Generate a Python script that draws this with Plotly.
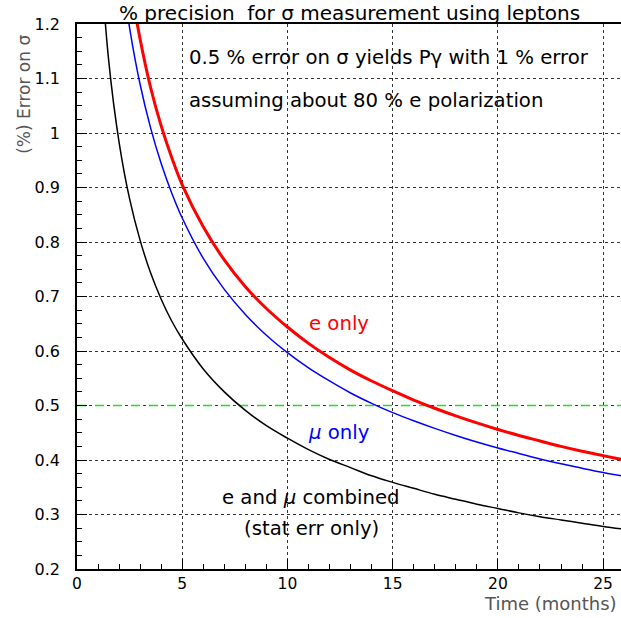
import plotly.graph_objects as go

# Time (months) sample points
months = [1.0, 1.5, 2.0, 2.5, 3.0, 3.5, 4.0, 4.5, 5.0, 6.0, 7.0, 8.0, 9.0, 10.0,
          11.0, 12.0, 13.0, 14.0, 15.0, 16.0, 17.0, 18.0, 19.0, 20.0, 21.0,
          22.0, 23.0, 24.0, 25.0, 26.0]

# % error on sigma
e_only = [2.04, 1.67, 1.44, 1.285, 1.172, 1.083, 1.013, 0.955, 0.905, 0.828,
          0.767, 0.718, 0.678, 0.644, 0.614, 0.588, 0.565, 0.545, 0.527, 0.510,
          0.495, 0.481, 0.468, 0.456, 0.445, 0.435, 0.425, 0.416, 0.408, 0.400]
mu_only = [1.887, 1.541, 1.334, 1.193, 1.089, 1.009, 0.944, 0.890, 0.844, 0.770,
           0.713, 0.667, 0.629, 0.597, 0.569, 0.545, 0.523, 0.504, 0.487, 0.472,
           0.458, 0.445, 0.433, 0.422, 0.412, 0.402, 0.393, 0.385, 0.377, 0.370]
combined = [1.39, 1.135, 0.983, 0.879, 0.803, 0.743, 0.695, 0.655, 0.622, 0.567,
            0.525, 0.491, 0.463, 0.440, 0.419, 0.401, 0.386, 0.371, 0.359, 0.348,
            0.337, 0.328, 0.319, 0.311, 0.303, 0.296, 0.290, 0.284, 0.278, 0.273]
goal_level = 0.5

x_ticks = [0, 5, 10, 15, 20, 25]
y_ticks = [0.2, 0.3, 0.4, 0.5, 0.6, 0.7, 0.8, 0.9, 1.0, 1.1, 1.2]
y_ticktext = ["0.2", "0.3", "0.4", "0.5", "0.6", "0.7", "0.8", "0.9", "1", "1.1", "1.2"]

FONT = "DejaVu Sans"
TXT = 19.7

fig = go.Figure()
fig.add_trace(go.Scatter(x=[0, 26], y=[goal_level, goal_level], mode="lines",
                         line=dict(color="#22dd22", width=1.5, dash="dash"),
                         showlegend=False, hoverinfo="skip"))
fig.add_trace(go.Scatter(x=months, y=combined, mode="lines", line_shape="spline",
                         line=dict(color="black", width=1.5), showlegend=False))
fig.add_trace(go.Scatter(x=months, y=mu_only, mode="lines", line_shape="spline",
                         line=dict(color="#0000ff", width=1.5), showlegend=False))
fig.add_trace(go.Scatter(x=months, y=e_only, mode="lines", line_shape="spline",
                         line=dict(color="#ff0000", width=3), showlegend=False))

annotations = [
    dict(text="% precision  for σ measurement using leptons", x=0.5, xref="paper",
         y=1.0, yref="paper", yanchor="middle", xanchor="center", yshift=11,
         font=dict(size=20, color="black"), showarrow=False),
    dict(text="0.5 % error on σ yields Pγ with 1 % error", x=5.24, y=1.138,
         xanchor="left", yanchor="middle", font=dict(size=TXT, color="black"), showarrow=False),
    dict(text="assuming about 80 % e polarization", x=5.24, y=1.059,
         xanchor="left", yanchor="middle", font=dict(size=TXT, color="black"), showarrow=False),
    dict(text="e only", x=12.45, y=0.65, xanchor="center", yanchor="middle",
         font=dict(size=TXT, color="#ff0000"), showarrow=False),
    dict(text="<i>μ</i> only", x=12.45, y=0.451, xanchor="center", yanchor="middle",
         font=dict(size=TXT, color="#0000ff"), showarrow=False),
    dict(text="e and <i>μ</i> combined", x=11.14, y=0.332, xanchor="center", yanchor="middle",
         font=dict(size=TXT, color="black"), showarrow=False),
    dict(text="(stat err only)", x=11.14, y=0.275, xanchor="center", yanchor="middle",
         font=dict(size=TXT, color="black"), showarrow=False),
    dict(text="(%) Error on σ", x=0, xref="paper", y=0.87, yref="paper",
         xanchor="center", yanchor="middle", textangle=-90, xshift=-53,
         font=dict(size=17, color="#555555"), showarrow=False),
    dict(text="Time (months)", x=1.0, xref="paper", y=0, yref="paper",
         xanchor="right", yanchor="middle", yshift=-34, xshift=-2,
         font=dict(size=18, color="#555555"), showarrow=False),
]

fig.update_layout(
    width=621, height=618,
    margin=dict(l=77, r=0, t=24, b=49, autoexpand=False),
    paper_bgcolor="white", plot_bgcolor="white",
    font=dict(family=FONT, size=16, color="black"),
    annotations=annotations,
)
fig.update_xaxes(range=[0, 25.85], tickvals=x_ticks,
                 showgrid=True, gridcolor="#333333", griddash="dot", gridwidth=1,
                 ticks="inside", ticklen=10, tickcolor="black", ticklabelstandoff=0,
                 minor=dict(dtick=1, ticks="inside", ticklen=5, tickcolor="black", showgrid=False),
                 showline=True, linecolor="black", linewidth=1.5, mirror=True,
                 zeroline=False, tickfont=dict(size=15.5))
fig.update_yaxes(range=[0.2, 1.2], tickvals=y_ticks, ticktext=y_ticktext,
                 showgrid=True, gridcolor="#333333", griddash="dot", gridwidth=1,
                 ticks="inside", ticklen=10, tickcolor="black", ticklabelstandoff=12,
                 minor=dict(dtick=0.025, tick0=0.2, ticks="inside", ticklen=5, tickcolor="black", showgrid=False),
                 showline=True, linecolor="black", linewidth=1.5, mirror=True,
                 zeroline=False, tickfont=dict(size=16))

# remove the default 8px page margin so the figure fills the window exactly
fig.write_html("out.html", config={"displayModeBar": False},
               post_script="document.body.style.margin='0';")
